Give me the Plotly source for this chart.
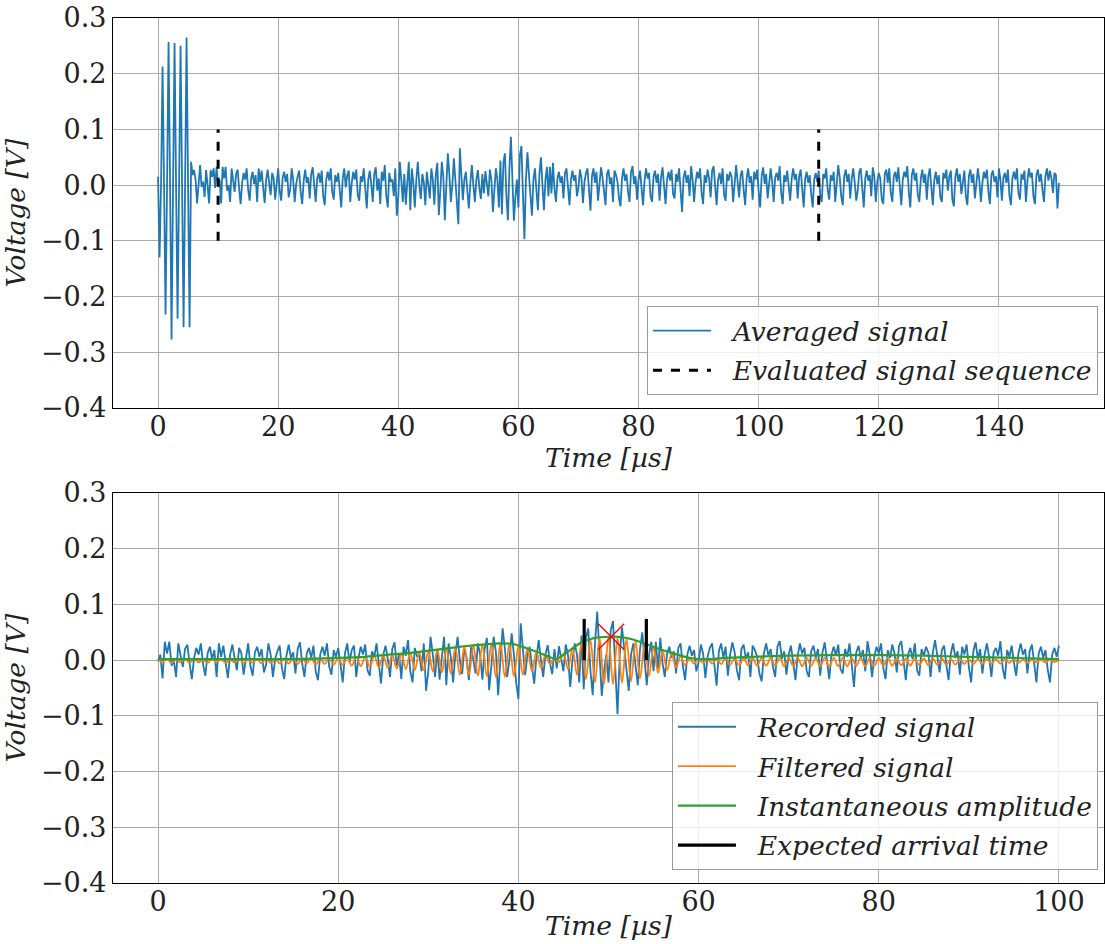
import plotly.graph_objects as go
from plotly.subplots import make_subplots

# ---------------- data ----------------
sample_step_us = 0.25  # sampling interval of the averaged signal

averaged_signal = [
    0.015, -0.130, 0.000, 0.213, 0.000, -0.232, 0.000, 0.257, 0.000, -0.277, 0.000, 0.255,
    0.000, -0.240, 0.000, 0.250, 0.000, -0.255, 0.000, 0.265, 0.000, -0.255, 0.042, 0.018,
    0.027, 0.010, -0.033, 0.006, 0.036, -0.003, 0.006, -0.021, 0.027, 0.000, -0.033, 0.027,
    0.015, 0.030, -0.005, 0.033, -0.002, 0.010, -0.033, 0.033, 0.012, 0.033, -0.010, 0.000,
    -0.030, 0.030, 0.008, -0.012, 0.020, 0.028, -0.006, -0.034, 0.004, 0.022, 0.010, 0.030,
    -0.008, -0.028, 0.012, 0.024, 0.002, 0.018, -0.030, 0.030, 0.006, 0.026, -0.004, -0.032,
    0.010, 0.028, 0.004, -0.018, 0.022, 0.012, -0.026, 0.006, 0.030, -0.010, -0.028, 0.014,
    0.024, 0.006, 0.020, -0.022, -0.008, 0.030, 0.010, -0.030, 0.002, 0.016, 0.026, -0.014,
    -0.034, 0.008, 0.028, 0.004, 0.014, -0.024, 0.020, 0.032, -0.006, -0.030, 0.012, 0.022,
    0.004, 0.026, -0.020, -0.036, 0.010, 0.024, 0.008, 0.030, -0.012, -0.026, 0.018, 0.006,
    0.022, -0.008, -0.040, 0.012, 0.030, -0.004, 0.018, 0.026, -0.030, 0.004, 0.024, 0.010,
    0.028, -0.018, -0.028, 0.016, 0.006, 0.030, -0.012, -0.042, 0.010, 0.026, 0.002, -0.030,
    0.020, 0.032, -0.010, 0.012, -0.034, 0.024, 0.008, 0.036, -0.020, -0.040, 0.022, 0.006,
    0.010, -0.020, 0.030, -0.055, -0.020, 0.042, 0.010, -0.030, 0.020, -0.035, 0.005, 0.042,
    -0.045, 0.030, 0.005, -0.040, 0.010, 0.042, 0.000, -0.025, 0.020, 0.005, -0.036, 0.024,
    0.000, -0.024, 0.030, 0.010, -0.035, 0.020, 0.040, -0.054, -0.010, 0.042, 0.015, -0.063,
    0.000, 0.057, 0.020, -0.030, 0.000, 0.048, 0.010, -0.040, -0.070, 0.066, 0.020, -0.027,
    0.010, 0.024, -0.010, -0.042, 0.005, 0.036, 0.000, -0.030, 0.010, 0.027, -0.005, -0.025,
    0.020, -0.015, 0.025, 0.005, -0.020, 0.028, 0.010, -0.048, 0.000, 0.030, 0.010, -0.040,
    0.044, -0.052, 0.040, 0.057, -0.020, -0.063, 0.030, 0.087, 0.010, -0.064, -0.020, 0.010,
    -0.040, 0.054, 0.070, -0.020, -0.097, 0.010, 0.059, 0.020, -0.020, -0.055, 0.010, 0.030,
    -0.010, -0.045, 0.020, 0.050, 0.000, -0.045, 0.010, 0.033, -0.020, 0.033, -0.015, 0.040,
    -0.006, -0.030, 0.012, 0.024, 0.004, 0.016, -0.024, 0.022, 0.030, -0.010, -0.036, 0.010,
    0.026, 0.008, 0.018, -0.020, -0.004, 0.028, 0.012, -0.032, 0.006, 0.022, 0.030, -0.008,
    -0.046, 0.016, 0.030, 0.004, 0.024, -0.028, 0.010, 0.032, 0.014, -0.018, -0.036, 0.020,
    0.028, 0.002, 0.014, -0.030, 0.026, 0.018, 0.006, -0.024, -0.038, 0.012, 0.030, 0.008,
    0.020, -0.012, -0.030, 0.024, 0.034, 0.002, 0.016, -0.026, 0.010, 0.026, -0.006, -0.036,
    0.008, 0.030, 0.012, 0.022, -0.020, -0.030, 0.016, 0.026, 0.004, 0.020, -0.028, 0.014,
    0.032, -0.004, -0.034, 0.010, 0.024, 0.008, 0.028, -0.016, -0.024, 0.020, 0.006, 0.030,
    -0.010, -0.048, 0.014, 0.026, 0.004, 0.018, -0.020, 0.034, 0.010, -0.030, 0.006, 0.024,
    0.012, 0.030, -0.014, -0.034, 0.018, 0.004, 0.028, 0.012, -0.022, 0.026, 0.034, -0.006,
    -0.036, 0.010, 0.022, 0.002, 0.030, -0.018, -0.028, 0.020, 0.008, 0.024, 0.014, -0.030,
    0.014, 0.036, 0.006, -0.022, 0.018, 0.026, -0.008, -0.036, 0.012, 0.030, 0.004, 0.016,
    -0.026, 0.024, 0.010, 0.028, -0.012, -0.040, 0.016, 0.032, 0.002, 0.020, -0.024, 0.010,
    0.030, 0.006, -0.030, 0.014, 0.022, 0.008, 0.034, -0.014, -0.034, 0.018, 0.006, 0.026,
    -0.004, -0.028, 0.012, 0.030, 0.010, 0.020, -0.024, 0.016, 0.028, -0.008, -0.040, 0.012,
    0.024, 0.004, 0.018, -0.016, -0.040, 0.010, 0.022, 0.006, 0.026, -0.018, -0.030, 0.020,
    0.012, 0.030, -0.010, -0.026, 0.018, 0.008, 0.024, -0.030, 0.004, 0.036, 0.014, -0.020,
    -0.036, 0.016, 0.028, 0.006, 0.020, -0.024, 0.012, 0.030, 0.004, -0.028, -0.010, 0.024,
    0.030, -0.006, -0.040, 0.012, 0.026, 0.008, 0.018, -0.020, 0.032, 0.016, -0.030, 0.006,
    0.022, 0.012, -0.026, -0.034, 0.020, 0.028, 0.004, 0.030, -0.014, -0.030, 0.016, 0.024,
    0.006, 0.032, -0.008, -0.036, 0.010, 0.024, 0.014, 0.034, -0.012, -0.040, 0.018, 0.030,
    0.008, 0.022, -0.018, -0.030, 0.012, 0.028, 0.004, 0.020, -0.026, 0.016, 0.030, -0.004,
    -0.036, 0.010, 0.024, 0.002, 0.018, -0.022, -0.030, 0.022, 0.012, 0.028, -0.010, 0.016,
    0.026, -0.026, -0.038, 0.014, 0.030, 0.006, 0.020, -0.016, 0.010, 0.026, -0.020, -0.036,
    0.016, 0.028, 0.004, 0.020, -0.024, 0.012, 0.030, 0.008, -0.030, 0.004, 0.024, 0.012,
    0.028, -0.012, -0.034, 0.018, 0.026, 0.006, 0.016, -0.022, 0.030, 0.010, -0.028, 0.014,
    0.022, 0.004, 0.028, -0.018, -0.036, 0.012, 0.024, 0.010, 0.030, -0.014, -0.026, 0.020,
    0.010, 0.026, -0.030, 0.008, 0.030, 0.014, 0.022, -0.020, -0.034, 0.018, 0.028, 0.006,
    0.020, -0.008, -0.030, 0.016, 0.030, 0.008, 0.026, 0.012, -0.014, 0.022, 0.018, -0.042,
    0.004,
]

# evaluated window (start / end in µs) and marker half height
window_times = [10, 110]
window_half_height = 0.1

# filtered signal of the evaluated window, sampled every 0.5 µs
filtered_step_us = 0.5
filtered_signal = [
    0.002, -0.004, 0.002, -0.005, 0.001, -0.004, 0.002, -0.005, 0.002, -0.004,
    0.001, -0.005, 0.002, -0.004, 0.002, -0.005, 0.001, -0.004, 0.002, -0.005,
    0.002, -0.005, 0.002, -0.006, 0.003, -0.005, 0.002, -0.006, 0.003, -0.006,
    0.003, -0.007, 0.003, -0.006, 0.004, -0.008, 0.003, -0.007, 0.004, -0.008,
    0.004, -0.009, 0.005, -0.010, 0.006, -0.011, 0.006, -0.012, 0.008, -0.013,
    0.008, -0.014, 0.010, -0.015, 0.011, -0.016, 0.013, -0.018, 0.014, -0.018,
    0.016, -0.020, 0.019, -0.022, 0.021, -0.024, 0.023, -0.026, 0.025, -0.027,
    0.026, -0.028, 0.028, -0.029, 0.029, -0.030, 0.030, -0.030, 0.029, -0.029,
    0.026, -0.026, 0.021, -0.020, 0.015, -0.014, 0.009, -0.007, 0.003, -0.004,
    0.012, -0.016, 0.022, -0.026, 0.031, -0.034, 0.037, -0.040, 0.041, -0.043,
    0.042, -0.043, 0.041, -0.041, 0.038, -0.038, 0.034, -0.033, 0.029, -0.028,
    0.024, -0.023, 0.018, -0.018, 0.012, -0.013, 0.007, -0.009, 0.003, -0.006,
    0.001, -0.005, 0.002, -0.006, 0.002, -0.007, 0.003, -0.008, 0.003, -0.009,
    0.003, -0.009, 0.004, -0.010, 0.004, -0.010, 0.004, -0.010, 0.004, -0.011,
    0.004, -0.010, 0.004, -0.011, 0.004, -0.010, 0.004, -0.011, 0.004, -0.011,
    0.004, -0.011, 0.004, -0.011, 0.004, -0.010, 0.004, -0.011, 0.004, -0.010,
    0.004, -0.010, 0.004, -0.010, 0.003, -0.009, 0.003, -0.010, 0.003, -0.009,
    0.003, -0.009, 0.003, -0.008, 0.003, -0.008, 0.002, -0.008, 0.002, -0.007,
    0.002, -0.007, 0.002, -0.007, 0.002, -0.006, 0.002, -0.006, 0.001, -0.005,
    0.001, -0.005, 0.001, -0.005, 0.001, -0.004, 0.001, -0.004, 0.001, -0.003,
    0.000,
]

# instantaneous amplitude (envelope) of the filtered signal
envelope_times = [0, 5, 10, 15, 20, 23, 25, 28, 30, 32, 34, 36, 38, 39.5, 41, 42.5, 44.2,
                  45.5, 47, 48.5, 50, 51, 52.5, 54, 55.5, 57, 58.5, 60, 61.5, 63, 66,
                  70, 75, 80, 85, 90, 95, 100]
envelope_values = [0.002, 0.002, 0.002, 0.002, 0.004, 0.006, 0.009, 0.013, 0.017, 0.021,
                   0.025, 0.028, 0.030, 0.029, 0.021, 0.012, 0.002, 0.015, 0.032, 0.040,
                   0.042, 0.042, 0.038, 0.030, 0.021, 0.013, 0.006, 0.002, 0.002, 0.004,
                   0.006, 0.008, 0.009, 0.009, 0.008, 0.006, 0.004, 0.002]

arrival_times = [47.3, 54.2]
arrival_height = 0.074
detected_time = [50.3]
detected_amplitude = [0.042]

# ---------------- figure ----------------
time_avg = [i * sample_step_us for i in range(len(averaged_signal))]
i0 = int(round(window_times[0] / sample_step_us))
i1 = int(round(window_times[1] / sample_step_us))
recorded = averaged_signal[i0:i1 + 1]
time_rec = [i * sample_step_us for i in range(len(recorded))]
time_filt = [i * filtered_step_us for i in range(len(filtered_signal))]

BLUE, ORANGE, GREEN = "#1f77b4", "#ff7f0e", "#2ca02c"
FONT = "DejaVu Serif"
PAD = "\u00a0\u00a0"

fig = make_subplots(rows=2, cols=1, vertical_spacing=0.0983)

fig.add_trace(go.Scatter(x=time_avg, y=averaged_signal, mode="lines",
                         line=dict(color=BLUE, width=1.8), name=PAD + "Averaged signal",
                         legend="legend", legendgroup="a"), row=1, col=1)
wx, wy = [], []
for t in window_times:
    wx += [t, t, None]
    wy += [-window_half_height, window_half_height, None]
fig.add_trace(go.Scatter(x=wx, y=wy, mode="lines",
                         line=dict(color="black", width=3, dash="dash"),
                         name=PAD + "Evaluated signal sequence", legend="legend",
                         legendgroup="b"), row=1, col=1)

fig.add_trace(go.Scatter(x=time_rec, y=recorded, mode="lines",
                         line=dict(color=BLUE, width=1.8), name=PAD + "Recorded signal",
                         legend="legend2", legendgroup="c"), row=2, col=1)
fig.add_trace(go.Scatter(x=time_filt, y=filtered_signal, mode="lines",
                         line=dict(color=ORANGE, width=1.8, shape="spline", smoothing=1.0),
                         name=PAD + "Filtered signal", legend="legend2", legendgroup="d"),
              row=2, col=1)
fig.add_trace(go.Scatter(x=envelope_times, y=envelope_values, mode="lines",
                         line=dict(color=GREEN, width=2.2, shape="spline", smoothing=0.5),
                         name=PAD + "Instantaneous amplitude", legend="legend2",
                         legendgroup="e"), row=2, col=1)
ax, ay = [], []
for t in arrival_times:
    ax += [t, t, None]
    ay += [0, arrival_height, None]
fig.add_trace(go.Scatter(x=ax, y=ay, mode="lines", line=dict(color="black", width=3.2),
                         name=PAD + "Expected arrival time", legend="legend2",
                         legendgroup="f"), row=2, col=1)
fig.add_trace(go.Scatter(x=detected_time, y=detected_amplitude, mode="markers",
                         marker=dict(symbol="x-thin", size=26, color="#ff0000",
                                     line=dict(color="#ff0000", width=1.3)),
                         showlegend=False), row=2, col=1)

axis_common = dict(showline=True, linecolor="black", linewidth=1.3, mirror=True,
                   showgrid=True, gridcolor="#ababab", gridwidth=1, zeroline=False,
                   ticks="", tickfont=dict(family=FONT, size=27, color="#222222"))
title_font = dict(family=FONT, size=26.5, color="#222222", style="italic")

fig.update_xaxes(**axis_common)
fig.update_yaxes(**axis_common)
fig.update_xaxes(range=[-7.5, 157.5], dtick=20, tick0=0, row=1, col=1, ticklabelstandoff=-6,
                 title=dict(text="Time [µs]", font=title_font, standoff=0))
fig.update_xaxes(range=[-5, 105], dtick=20, tick0=0, row=2, col=1, ticklabelstandoff=-6,
                 title=dict(text="Time [µs]", font=title_font, standoff=0))
for r in (1, 2):
    fig.update_yaxes(range=[-0.4, 0.3], dtick=0.1, tick0=0, tickformat=".1f", row=r, col=1,
                     title=dict(text="Voltage [V]", font=title_font, standoff=8))

legend_common = dict(font=dict(family=FONT, size=26.5, color="#222222", style="italic"),
                     bgcolor="rgba(255,255,255,0.8)", bordercolor="#9a9a9a", borderwidth=1,
                     xanchor="right", yanchor="bottom", itemwidth=58, tracegroupgap=2)
fig.update_layout(
    width=1105, height=944,
    margin=dict(l=113, r=1, t=18, b=61),
    plot_bgcolor="white", paper_bgcolor="white",
    legend=dict(x=0.9939, y=0.5642, **legend_common),
    legend2=dict(x=0.9939, y=0.015, **legend_common),
)

fig.write_html("out.html")
